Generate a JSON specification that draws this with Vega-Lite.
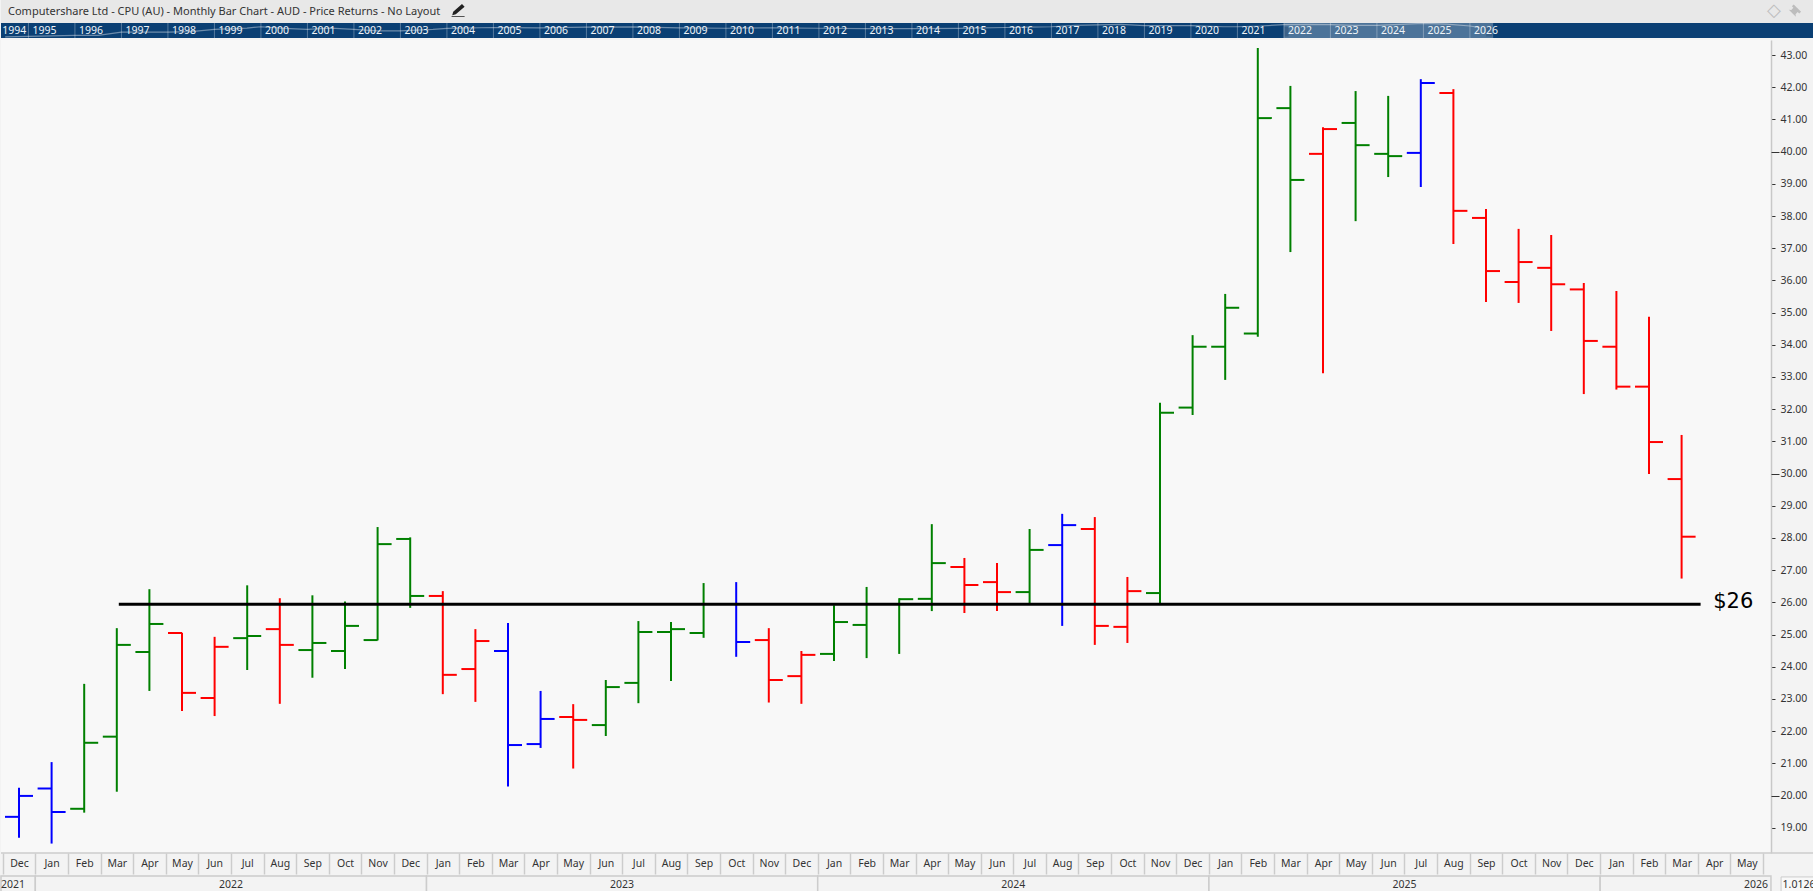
{"$schema":"https://vega.github.io/schema/vega-lite/v6.json","padding":0,"background":"#f3f3f3","spacing":0,"resolve":{"scale":{"color":"independent"}},"config":{"view":{"stroke":null},"font":"Noto Sans"},"datasets":{"ohlc":[
{"month":"Dec 2021","open":19.34,"high":20.24,"low":18.69,"close":19.99,"state":"flat"},
{"month":"Jan 2022","open":20.22,"high":21.04,"low":18.51,"close":19.49,"state":"flat"},
{"month":"Feb 2022","open":19.59,"high":23.47,"low":19.47,"close":21.64,"state":"up"},
{"month":"Mar 2022","open":21.83,"high":25.2,"low":20.12,"close":24.68,"state":"up"},
{"month":"Apr 2022","open":24.46,"high":26.41,"low":23.25,"close":25.33,"state":"up"},
{"month":"May 2022","open":25.05,"high":25.06,"low":22.63,"close":23.19,"state":"down"},
{"month":"Jun 2022","open":23.03,"high":24.93,"low":22.47,"close":24.62,"state":"down"},
{"month":"Jul 2022","open":24.89,"high":26.53,"low":23.9,"close":24.96,"state":"up"},
{"month":"Aug 2022","open":25.17,"high":26.13,"low":22.85,"close":24.68,"state":"down"},
{"month":"Sep 2022","open":24.52,"high":26.22,"low":23.66,"close":24.74,"state":"up"},
{"month":"Oct 2022","open":24.49,"high":26.03,"low":23.93,"close":25.27,"state":"up"},
{"month":"Nov 2022","open":24.83,"high":28.34,"low":24.82,"close":27.81,"state":"up"},
{"month":"Dec 2022","open":27.97,"high":28.02,"low":25.83,"close":26.2,"state":"up"},
{"month":"Jan 2023","open":26.2,"high":26.35,"low":23.15,"close":23.75,"state":"down"},
{"month":"Feb 2023","open":23.93,"high":25.17,"low":22.91,"close":24.8,"state":"down"},
{"month":"Mar 2023","open":24.49,"high":25.36,"low":20.28,"close":21.57,"state":"flat"},
{"month":"Apr 2023","open":21.6,"high":23.25,"low":21.48,"close":22.38,"state":"flat"},
{"month":"May 2023","open":22.44,"high":22.84,"low":20.84,"close":22.35,"state":"down"},
{"month":"Jun 2023","open":22.19,"high":23.59,"low":21.85,"close":23.37,"state":"up"},
{"month":"Jul 2023","open":23.5,"high":25.42,"low":22.87,"close":25.08,"state":"up"},
{"month":"Aug 2023","open":25.08,"high":25.39,"low":23.56,"close":25.17,"state":"up"},
{"month":"Sep 2023","open":25.05,"high":26.6,"low":24.9,"close":25.95,"state":"up"},
{"month":"Oct 2023","open":25.95,"high":26.63,"low":24.31,"close":24.77,"state":"flat"},
{"month":"Nov 2023","open":24.83,"high":25.2,"low":22.89,"close":23.59,"state":"down"},
{"month":"Dec 2023","open":23.71,"high":24.49,"low":22.85,"close":24.37,"state":"down"},
{"month":"Jan 2024","open":24.4,"high":25.91,"low":24.18,"close":25.39,"state":"up"},
{"month":"Feb 2024","open":25.3,"high":26.48,"low":24.27,"close":25.95,"state":"up"},
{"month":"Mar 2024","open":25.95,"high":26.13,"low":24.4,"close":26.1,"state":"up"},
{"month":"Apr 2024","open":26.11,"high":28.43,"low":25.73,"close":27.22,"state":"up"},
{"month":"May 2024","open":27.1,"high":27.38,"low":25.67,"close":26.54,"state":"down"},
{"month":"Jun 2024","open":26.63,"high":27.22,"low":25.73,"close":26.32,"state":"down"},
{"month":"Jul 2024","open":26.32,"high":28.28,"low":25.96,"close":27.63,"state":"up"},
{"month":"Aug 2024","open":27.78,"high":28.75,"low":25.27,"close":28.4,"state":"flat"},
{"month":"Sep 2024","open":28.28,"high":28.65,"low":24.68,"close":25.27,"state":"down"},
{"month":"Oct 2024","open":25.24,"high":26.79,"low":24.74,"close":26.35,"state":"down"},
{"month":"Nov 2024","open":26.29,"high":32.2,"low":25.96,"close":31.89,"state":"up"},
{"month":"Dec 2024","open":32.05,"high":34.3,"low":31.82,"close":33.94,"state":"up"},
{"month":"Jan 2025","open":33.94,"high":35.58,"low":32.91,"close":35.15,"state":"up"},
{"month":"Feb 2025","open":34.35,"high":43.22,"low":34.25,"close":41.04,"state":"up"},
{"month":"Mar 2025","open":41.35,"high":42.04,"low":36.88,"close":39.12,"state":"up"},
{"month":"Apr 2025","open":39.93,"high":40.76,"low":33.12,"close":40.7,"state":"down"},
{"month":"May 2025","open":40.89,"high":41.88,"low":37.84,"close":40.2,"state":"up"},
{"month":"Jun 2025","open":39.93,"high":41.73,"low":39.21,"close":39.86,"state":"up"},
{"month":"Jul 2025","open":39.96,"high":42.25,"low":38.9,"close":42.13,"state":"flat"},
{"month":"Aug 2025","open":41.82,"high":41.94,"low":37.13,"close":38.16,"state":"down"},
{"month":"Sep 2025","open":37.94,"high":38.22,"low":35.33,"close":36.29,"state":"down"},
{"month":"Oct 2025","open":35.95,"high":37.6,"low":35.3,"close":36.57,"state":"down"},
{"month":"Nov 2025","open":36.39,"high":37.41,"low":34.43,"close":35.88,"state":"down"},
{"month":"Dec 2025","open":35.72,"high":35.92,"low":32.47,"close":34.12,"state":"down"},
{"month":"Jan 2026","open":33.94,"high":35.67,"low":32.61,"close":32.7,"state":"down"},
{"month":"Feb 2026","open":32.7,"high":34.87,"low":29.99,"close":30.98,"state":"down"},
{"month":"Mar 2026","open":29.83,"high":31.2,"low":26.74,"close":28.04,"state":"down"}
]},
"vconcat":[
{"width":1813,"height":38,"title":{"text":"Computershare Ltd - CPU (AU) - Monthly Bar Chart - AUD - Price Returns - No Layout","anchor":"start","frame":"group","dx":7,"offset":-17,"font":"Noto Sans","fontSize":11,"fontWeight":"normal","color":"#333333"},
"layer":[
{"data":{"values":[{"from":1994.41,"to":2033.4,"lo":0,"hi":1,"part":"navigator"},{"from":1994.41,"to":2033.4,"lo":1,"hi":2.5334,"part":"header"}]},"mark":{"type":"rect"},"encoding":{"x":{"field":"from","type":"quantitative","scale":{"domain":[1994.41,2033.4],"nice":false,"zero":false},"axis":null},"x2":{"field":"to"},"y":{"field":"lo","type":"quantitative","scale":{"domain":[0,2.5334],"nice":false,"zero":false},"axis":null},"y2":{"field":"hi"},"color":{"field":"part","type":"nominal","scale":{"domain":["navigator","header"],"range":["#0a3f73","#e8e8e8"]},"legend":null}}},
{"data":{"values":[{"yr":1994.5,"lvl":0.07},{"yr":1995,"lvl":0.11},{"yr":1995.5,"lvl":0.14},{"yr":1996,"lvl":0.18},{"yr":1996.5,"lvl":0.18},{"yr":1997,"lvl":0.39},{"yr":1998,"lvl":0.39},{"yr":1998.5,"lvl":0.43},{"yr":1999,"lvl":0.57},{"yr":1999.7,"lvl":0.66},{"yr":2000,"lvl":0.75},{"yr":2000.5,"lvl":0.64},{"yr":2001,"lvl":0.57},{"yr":2001.5,"lvl":0.66},{"yr":2002,"lvl":0.57},{"yr":2002.5,"lvl":0.48},{"yr":2003,"lvl":0.48},{"yr":2003.7,"lvl":0.57},{"yr":2004,"lvl":0.64},{"yr":2005,"lvl":0.7},{"yr":2006,"lvl":0.68},{"yr":2007,"lvl":0.72},{"yr":2008,"lvl":0.74},{"yr":2009,"lvl":0.68},{"yr":2010,"lvl":0.65},{"yr":2011,"lvl":0.68},{"yr":2012,"lvl":0.65},{"yr":2013,"lvl":0.62},{"yr":2014,"lvl":0.62},{"yr":2015,"lvl":0.64},{"yr":2016,"lvl":0.7},{"yr":2017,"lvl":0.75},{"yr":2017.5,"lvl":0.84},{"yr":2018.5,"lvl":0.91},{"yr":2019,"lvl":0.82},{"yr":2020,"lvl":0.82},{"yr":2020.7,"lvl":0.75},{"yr":2021,"lvl":0.75},{"yr":2021.5,"lvl":0.8},{"yr":2022,"lvl":0.89},{"yr":2022.5,"lvl":0.91},{"yr":2023,"lvl":0.89},{"yr":2023.5,"lvl":0.84},{"yr":2024,"lvl":0.84},{"yr":2024.5,"lvl":0.91},{"yr":2025,"lvl":0.98},{"yr":2025.5,"lvl":0.93},{"yr":2026,"lvl":0.8},{"yr":2026.2,"lvl":0.7}]},"mark":{"type":"line","color":"#ffffff","opacity":0.4,"strokeWidth":1.2},"encoding":{"x":{"field":"yr","type":"quantitative"},"y":{"field":"lvl","type":"quantitative"}}},
{"data":{"values":[{"from":2022,"to":2026.5,"lo":0,"hi":1}]},"mark":{"type":"rect","color":"#ffffff","opacity":0.27},"encoding":{"x":{"field":"from","type":"quantitative"},"x2":{"field":"to"},"y":{"field":"lo","type":"quantitative"},"y2":{"field":"hi"}}},
{"data":{"values":[{"from":2022.01,"to":2022.1,"lo":0.1,"hi":0.75},{"from":2026.35,"to":2026.48,"lo":0.1,"hi":0.75}]},"mark":{"type":"rect","color":"#3a5f86","opacity":0.9},"encoding":{"x":{"field":"from","type":"quantitative"},"x2":{"field":"to"},"y":{"field":"lo","type":"quantitative"},"y2":{"field":"hi"}}},
{"data":{"values":[{"yr":1995,"lo":0,"hi":1},{"yr":1996,"lo":0,"hi":1},{"yr":1997,"lo":0,"hi":1},{"yr":1998,"lo":0,"hi":1},{"yr":1999,"lo":0,"hi":1},{"yr":2000,"lo":0,"hi":1},{"yr":2001,"lo":0,"hi":1},{"yr":2002,"lo":0,"hi":1},{"yr":2003,"lo":0,"hi":1},{"yr":2004,"lo":0,"hi":1},{"yr":2005,"lo":0,"hi":1},{"yr":2006,"lo":0,"hi":1},{"yr":2007,"lo":0,"hi":1},{"yr":2008,"lo":0,"hi":1},{"yr":2009,"lo":0,"hi":1},{"yr":2010,"lo":0,"hi":1},{"yr":2011,"lo":0,"hi":1},{"yr":2012,"lo":0,"hi":1},{"yr":2013,"lo":0,"hi":1},{"yr":2014,"lo":0,"hi":1},{"yr":2015,"lo":0,"hi":1},{"yr":2016,"lo":0,"hi":1},{"yr":2017,"lo":0,"hi":1},{"yr":2018,"lo":0,"hi":1},{"yr":2019,"lo":0,"hi":1},{"yr":2020,"lo":0,"hi":1},{"yr":2021,"lo":0,"hi":1},{"yr":2022,"lo":0,"hi":1},{"yr":2023,"lo":0,"hi":1},{"yr":2024,"lo":0,"hi":1},{"yr":2025,"lo":0,"hi":1},{"yr":2026,"lo":0,"hi":1}]},"mark":{"type":"rule","color":"#ffffff","opacity":0.3,"strokeWidth":1},"encoding":{"x":{"field":"yr","type":"quantitative"},"y":{"field":"lo","type":"quantitative"},"y2":{"field":"hi"}}},
{"data":{"values":[{"yr":1994.35,"lvl":0.48,"t":"1994"},{"yr":1995,"lvl":0.48,"t":"1995"},{"yr":1996,"lvl":0.48,"t":"1996"},{"yr":1997,"lvl":0.48,"t":"1997"},{"yr":1998,"lvl":0.48,"t":"1998"},{"yr":1999,"lvl":0.48,"t":"1999"},{"yr":2000,"lvl":0.48,"t":"2000"},{"yr":2001,"lvl":0.48,"t":"2001"},{"yr":2002,"lvl":0.48,"t":"2002"},{"yr":2003,"lvl":0.48,"t":"2003"},{"yr":2004,"lvl":0.48,"t":"2004"},{"yr":2005,"lvl":0.48,"t":"2005"},{"yr":2006,"lvl":0.48,"t":"2006"},{"yr":2007,"lvl":0.48,"t":"2007"},{"yr":2008,"lvl":0.48,"t":"2008"},{"yr":2009,"lvl":0.48,"t":"2009"},{"yr":2010,"lvl":0.48,"t":"2010"},{"yr":2011,"lvl":0.48,"t":"2011"},{"yr":2012,"lvl":0.48,"t":"2012"},{"yr":2013,"lvl":0.48,"t":"2013"},{"yr":2014,"lvl":0.48,"t":"2014"},{"yr":2015,"lvl":0.48,"t":"2015"},{"yr":2016,"lvl":0.48,"t":"2016"},{"yr":2017,"lvl":0.48,"t":"2017"},{"yr":2018,"lvl":0.48,"t":"2018"},{"yr":2019,"lvl":0.48,"t":"2019"},{"yr":2020,"lvl":0.48,"t":"2020"},{"yr":2021,"lvl":0.48,"t":"2021"},{"yr":2022,"lvl":0.48,"t":"2022"},{"yr":2023,"lvl":0.48,"t":"2023"},{"yr":2024,"lvl":0.48,"t":"2024"},{"yr":2025,"lvl":0.48,"t":"2025"},{"yr":2026,"lvl":0.48,"t":"2026"}]},"mark":{"type":"text","align":"left","dx":4,"baseline":"middle","color":"#eef3f8","fontSize":10.5,"font":"Noto Sans"},"encoding":{"x":{"field":"yr","type":"quantitative"},"y":{"field":"lvl","type":"quantitative"},"text":{"field":"t"}}},
{"data":{"values":[{"yr":2032.54,"lvl":1.83,"t":"◇"}]},"mark":{"type":"text","align":"center","baseline":"middle","color":"#bdbdbd","fontSize":18,"font":"DejaVu Sans"},"encoding":{"x":{"field":"yr","type":"quantitative"},"y":{"field":"lvl","type":"quantitative"},"text":{"field":"t"}}},
{"data":{"values":[{"yr":2032.99,"lvl":1.83}]},"mark":{"type":"point","filled":true,"color":"#bdbdbd","opacity":1,"size":150,"shape":"M-0.2,-1 L1,0.2 L0.7,0.5 L0.45,0.25 L0.1,0.6 L0.15,1 L-1,-0.15 L-0.6,-0.1 L-0.25,-0.45 L-0.5,-0.7 Z"},"encoding":{"x":{"field":"yr","type":"quantitative"},"y":{"field":"lvl","type":"quantitative"}}},
{"data":{"values":[{"yr":2004.24,"lvl":1.83}]},"mark":{"type":"point","filled":true,"color":"#222222","opacity":1,"size":170,"shape":"M0.6,-1 L1,-0.6 L-0.35,0.55 L-0.9,0.72 L-0.75,0.2 Z M-1,0.88 L1,0.88 L1,1 L-1,1 Z"},"encoding":{"x":{"field":"yr","type":"quantitative"},"y":{"field":"lvl","type":"quantitative"}}}
]},
{"width":1770,"height":813,"view":{"fill":"#f8f8f8","stroke":null},"data":{"name":"ohlc"},"resolve":{"axis":{"y":"independent"},"scale":{"y":"shared"}},
"encoding":{"x":{"field":"month","type":"nominal","sort":null,"title":null,
"scale":{"type":"band","domain":["Dec 2021","Jan 2022","Feb 2022","Mar 2022","Apr 2022","May 2022","Jun 2022","Jul 2022","Aug 2022","Sep 2022","Oct 2022","Nov 2022","Dec 2022","Jan 2023","Feb 2023","Mar 2023","Apr 2023","May 2023","Jun 2023","Jul 2023","Aug 2023","Sep 2023","Oct 2023","Nov 2023","Dec 2023","Jan 2024","Feb 2024","Mar 2024","Apr 2024","May 2024","Jun 2024","Jul 2024","Aug 2024","Sep 2024","Oct 2024","Nov 2024","Dec 2024","Jan 2025","Feb 2025","Mar 2025","Apr 2025","May 2025","Jun 2025","Jul 2025","Aug 2025","Sep 2025","Oct 2025","Nov 2025","Dec 2025","Jan 2026","Feb 2026","Mar 2026","Apr 2026","May 2026"],"range":[1.7,1762.1],"paddingInner":0,"paddingOuter":0},
"axis":{"labelExpr":"isValid(datum.value)?split(datum.value,' ')[0]:''","labelAngle":0,"tickBand":"extent","tickSize":21,"tickColor":"#cccccc","tickWidth":1.5,"domain":false,"grid":false,"labelPadding":-16,"labelFont":"Noto Sans","labelFontSize":10.5,"labelColor":"#333333","labelOverlap":false}}},
"layer":[
{"mark":{"type":"rule","strokeWidth":2},"encoding":{"y":{"field":"high","type":"quantitative","title":null,"scale":{"domain":[18.217,43.466],"nice":false,"zero":false},"axis":{"orient":"right","values":[19,20,21,22,23,24,25,26,27,28,29,30,31,32,33,34,35,36,37,38,39,40,41,42,43],"format":".2f","grid":false,"domainColor":"#c8c8c8","domainWidth":1.5,"tickColor":"#333333","tickSize":4,"labelPadding":5,"labelFont":"Noto Sans","labelFontSize":10.5,"labelColor":"#333333","labelOverlap":false}},"y2":{"field":"low"},"color":{"field":"state","type":"nominal","scale":{"domain":["up","down","flat"],"range":["#008000","#ff0000","#0000ff"]},"legend":null}}},
{"mark":{"type":"tick","orient":"horizontal","size":14,"thickness":2,"xOffset":-7,"opacity":1},"encoding":{"y":{"field":"open","type":"quantitative","axis":null},"color":{"field":"state","type":"nominal","legend":null}}},
{"mark":{"type":"tick","orient":"horizontal","size":14,"thickness":2,"xOffset":7,"opacity":1},"encoding":{"y":{"field":"close","type":"quantitative","axis":null},"color":{"field":"state","type":"nominal","legend":null}}},
{"data":{"values":[{"month":"Mar 2022","end":"Mar 2026","level":25.94}]},"mark":{"type":"rule","color":"#000000","strokeWidth":3,"xOffset":2,"x2Offset":19},"encoding":{"x2":{"field":"end"},"y":{"field":"level","type":"quantitative","axis":null}}},
{"data":{"values":[{"month":"Apr 2026","level":26.02,"label":"$26"}]},"mark":{"type":"text","align":"left","baseline":"middle","dx":-1,"font":"DejaVu Sans","fontSize":21,"color":"#000000"},"encoding":{"y":{"field":"level","type":"quantitative","axis":null},"text":{"field":"label"}}},
{"data":{"values":[{"month":"Dec 2021","end":"May 2026","level":18.217}]},"mark":{"type":"rule","color":"#cccccc","strokeWidth":1.5,"xOffset":-18,"x2Offset":68},"encoding":{"x2":{"field":"end"},"y":{"field":"level","type":"quantitative","title":null,"axis":{"orient":"right","values":[20,30,40],"labels":false,"domain":false,"grid":false,"tickSize":8,"tickColor":"#333333"}}}}
]},
{"width":1813,"height":19,"layer":[
{"data":{"values":[{"start":-0.052,"end":1,"lo":0.03,"hi":1},{"start":1,"end":13,"lo":0.03,"hi":1},{"start":13,"end":25,"lo":0.03,"hi":1},{"start":25,"end":37,"lo":0.03,"hi":1},{"start":37,"end":49,"lo":0.03,"hi":1},{"start":49,"end":54.24,"lo":0.03,"hi":1}]},"mark":{"type":"rect","fill":"#f3f3f3","stroke":"#cccccc","strokeWidth":1.5},"encoding":{"x":{"field":"start","type":"quantitative","scale":{"domain":[-0.052,55.56],"nice":false,"zero":false},"axis":null},"x2":{"field":"end"},"y":{"field":"lo","type":"quantitative","scale":{"domain":[0,1],"nice":false},"axis":null},"y2":{"field":"hi"}}},
{"data":{"values":[{"start":-0.052,"end":55.56,"lo":0.03}]},"mark":{"type":"rule","color":"#cccccc","strokeWidth":1.5},"encoding":{"x":{"field":"start","type":"quantitative"},"x2":{"field":"end"},"y":{"field":"lo","type":"quantitative"}}},
{"data":{"values":[{"start":54.55,"end":55.7,"lo":0.12,"hi":0.95}]},"mark":{"type":"rect","fill":"#f8f8f8","stroke":"#cccccc","strokeWidth":1},"encoding":{"x":{"field":"start","type":"quantitative"},"x2":{"field":"end"},"y":{"field":"lo","type":"quantitative"},"y2":{"field":"hi"}}},
{"data":{"values":[{"at":0.316,"lvl":0.55,"t":"2021"},{"at":7,"lvl":0.55,"t":"2022"},{"at":19,"lvl":0.55,"t":"2023"},{"at":31,"lvl":0.55,"t":"2024"},{"at":43,"lvl":0.55,"t":"2025"},{"at":53.78,"lvl":0.55,"t":"2026"},{"at":55.1,"lvl":0.52,"t":"1.0126"}]},"mark":{"type":"text","align":"center","baseline":"middle","font":"Noto Sans","fontSize":10.5,"color":"#333333"},"encoding":{"x":{"field":"at","type":"quantitative"},"y":{"field":"lvl","type":"quantitative"},"text":{"field":"t"}}}
]}
]}
